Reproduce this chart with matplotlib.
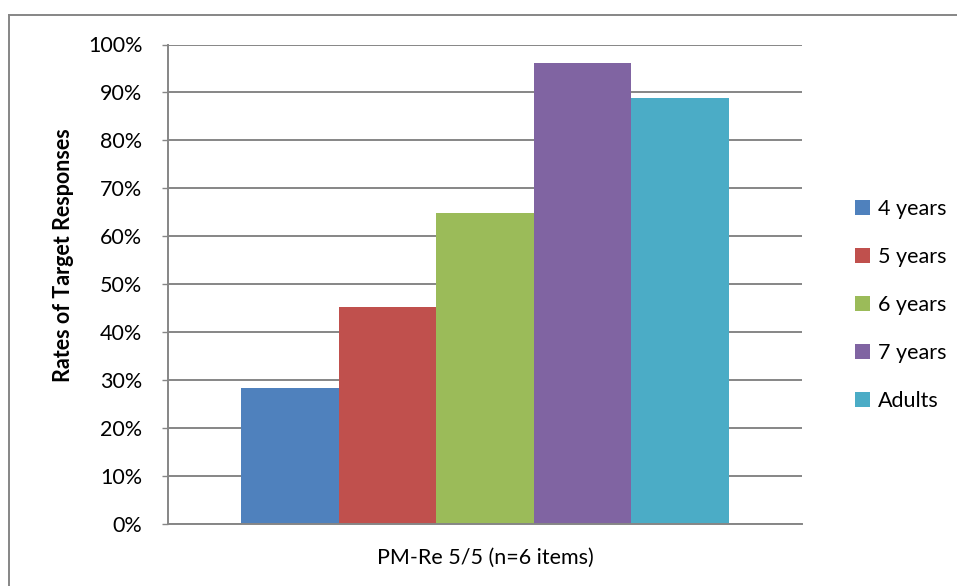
import matplotlib
matplotlib.use("Agg")
import matplotlib.pyplot as plt
from matplotlib.lines import Line2D
from matplotlib.patches import Patch
from matplotlib.ticker import PercentFormatter

# =========================
# DATA
# =========================

groups = ["4 years", "5 years", "6 years", "7 years", "Adults"]
rates = [0.284, 0.453, 0.649, 0.961, 0.888]
colors = ["#4F81BD", "#C0504D", "#9BBB59", "#8064A2", "#4BACC6"]
category = "PM-Re 5/5 (n=6 items)"
y_ticks = [0.0, 0.1, 0.2, 0.3, 0.4, 0.5, 0.6, 0.7, 0.8, 0.9, 1.0]

plt.rcParams["font.family"] = ["Lato", "DejaVu Sans"]
grid_color = "#868686"
fs = 15.5

# =========================
# FIGURE
# =========================

W, H = 957, 586
fig = plt.figure(figsize=(W / 100, H / 100), dpi=100)

ax = fig.add_axes([
    168 / W,
    (H - 524) / H,
    634 / W,
    (524 - 44.5) / H
])

positions = [i - (len(groups) - 1) / 2 for i in range(len(groups))]

ax.bar(
    positions,
    rates,
    width=1.0,
    color=colors,
    zorder=3
)

ax.set_xlim(-3.25, 3.25)
ax.set_ylim(0, 1)
ax.set_yticks(y_ticks)
ax.yaxis.set_major_formatter(PercentFormatter(1.0, decimals=0))
ax.set_xticks([])

ax.grid(axis="y", color=grid_color, linewidth=1.4, zorder=0)

for side in ["top", "right"]:
    ax.spines[side].set_visible(False)
for side in ["left", "bottom"]:
    ax.spines[side].set_color(grid_color)
    ax.spines[side].set_linewidth(1.4)
    ax.spines[side].set_zorder(4)

ax.tick_params(
    axis="y",
    length=4.5,
    width=1.0,
    color=grid_color,
    pad=14,
    labelsize=fs,
    labelcolor="black"
)

# =========================
# LABELS
# =========================

fig.text(
    63 / W, 1 - 255 / H,
    "Rates of Target Responses",
    rotation=90,
    fontsize=fs,
    fontweight="bold",
    ha="center",
    va="center"
)

fig.text(
    485 / W, 1 - 558 / H,
    category,
    fontsize=fs,
    ha="center",
    va="center"
)

# =========================
# LEGEND
# =========================

handles = [Patch(facecolor=c, edgecolor="none") for c in colors]

fig.legend(
    handles,
    groups,
    loc="center left",
    bbox_to_anchor=(836 / W, 1 - 305 / H),
    frameon=False,
    fontsize=fs,
    handlelength=0.7,
    handleheight=0.7,
    handletextpad=0.35,
    labelspacing=1.3
)

# outer chart border
fig.add_artist(Line2D([9 / W, 9 / W], [0, 1 - 15 / H], color=grid_color, linewidth=1.4))
fig.add_artist(Line2D([9 / W, 1], [1 - 15 / H, 1 - 15 / H], color=grid_color, linewidth=1.4))

fig.savefig("out.png", dpi=100)
